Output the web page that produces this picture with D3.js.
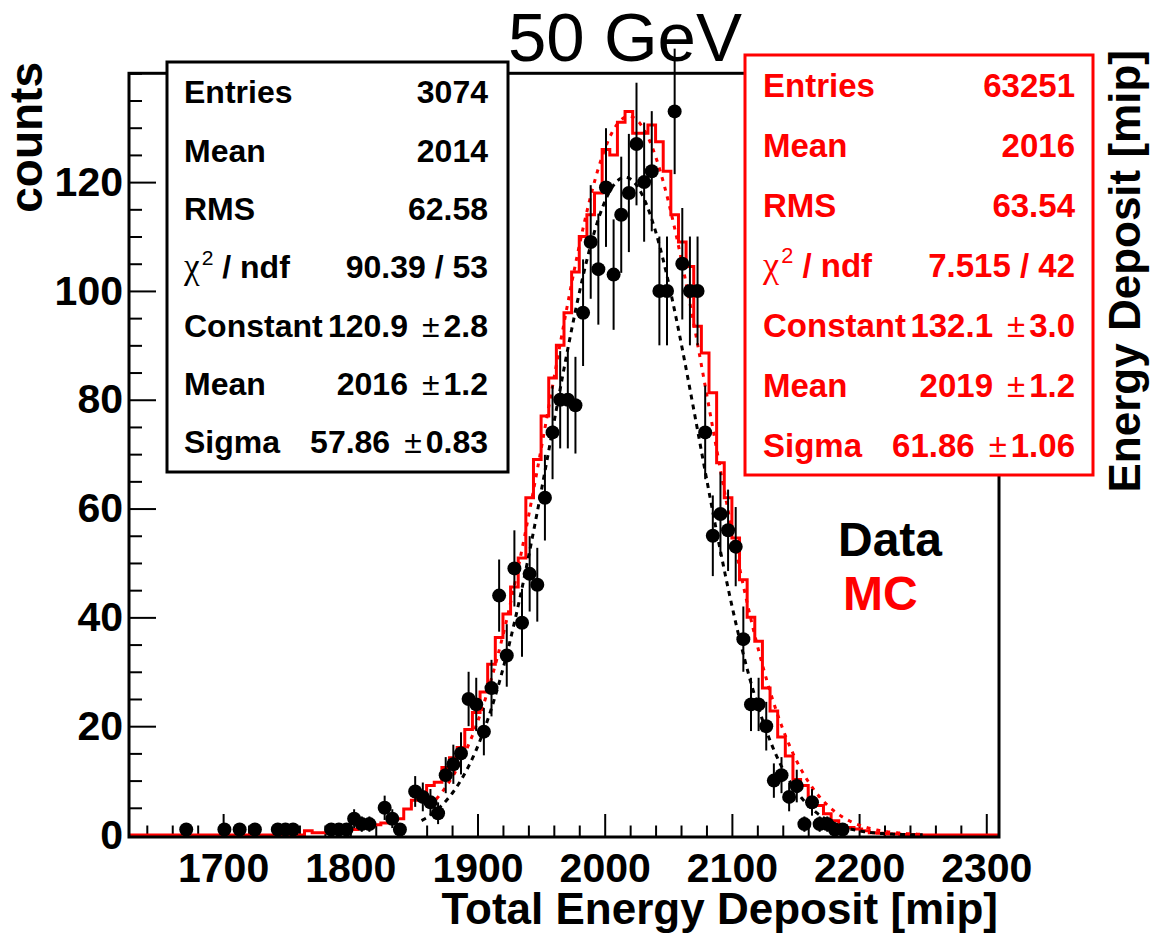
<!DOCTYPE html>
<html>
<head>
<meta charset="utf-8">
<script src="https://cdn.jsdelivr.net/npm/d3@7"></script>
<style>
  html, body { margin: 0; padding: 0; background: #fff; }
  svg { display: block; }
  text { font-family: "Liberation Sans", Arial, Helvetica, sans-serif; }
</style>
</head>
<body>
<svg id="chart" width="1150" height="935"></svg>
<script>
// Histogram binning: 114 bins of 6 mip, 1626 .. 2310 mip
const binLow = 1626;
const binWidth = 6;

// Beam-test data, counts per bin
const dataCounts = [
  0, 0, 0, 0, 0, 0, 0, 1, 0, 0,
  0, 0, 1, 0, 1, 0, 1, 0, 0, 1,
  1, 1, 0, 0, 0, 0, 1, 1, 1, 3,
  2, 2, 0, 5, 3, 1, 0, 8, 7, 6,
  4, 11, 13, 15, 25, 24, 19, 27, 44, 33,
  49, 39, 48, 46, 62, 74, 80, 80, 79, 96,
  109, 104, 119, 103, 114, 118, 127, 120, 122, 100,
  100, 133, 105, 100, 100, 74, 55, 59, 56, 53,
  36, 24, 24, 20, 10, 11, 7, 9, 2, 6,
  2, 2, 1, 1, 0, 0, 0, 0, 0, 0,
  0, 0, 0, 0, 0, 0, 0, 0, 0, 0,
  0, 0, 0, 0
];

// Simulation, normalised to the data, per bin
const mcCounts = [
  0, 0, 0, 0, 0, 0, 0, 0, 0, 0,
  0, 0, 0, 0, 0, 0, 0, 0, 0, 0,
  0, 0, 0, 0.8, 0.4, 0.4, 0.5, 0.6, 0.8, 1.0,
  1.3, 1.6, 1.9, 2.2, 2.6, 3.0, 4.8, 6.4, 7.8, 9.1,
  9.7, 12.4, 14.2, 16.1, 19.4, 22.5, 26.3, 31.4, 36.3, 40.6,
  45.6, 50.9, 62, 69, 77, 84, 90, 96, 103.5, 110,
  114, 118, 126, 125, 131, 133, 129, 129, 130.5, 127.4,
  122, 114, 109, 104.5, 93.5, 88.6, 81.3, 68.4, 62, 54.6,
  46.9, 40, 35.6, 27, 22.8, 18, 14.5, 10.2, 9.1, 6.6,
  5.4, 3.9, 2.6, 1.7, 1.4, 1.1, 0.8, 0.4, 0.3, 0.2,
  0.2, 0.1, 0.1, 0, 0, 0, 0, 0, 0, 0,
  0, 0, 0, 0
];

const xTicksMajor = [1700, 1800, 1900, 2000, 2100, 2200, 2300];
const yTicksMajor = [0, 20, 40, 60, 80, 100, 120];
const yMax = 140;

// Gaussian fits: constant, mean, sigma
const dataFit = [120.9, 2016, 57.86];
const dataFitErr = ["2.8", "1.2", "0.83"];
const dataFitRange = [1856, 2250];
const mcFit = [132.1, 2019, 61.86];
const mcFitErr = ["3.0", "1.2", "1.06"];
const mcFitRange = [1862, 2250];

const dataStats = ["3074", "2014", "62.58", "90.39 / 53"];
const mcStats = ["63251", "2016", "63.54", "7.515 / 42"];

const svg = d3.select("#chart");
const W = 1150, H = 935;
svg.append("rect").attr("width", W).attr("height", H).attr("fill", "#fff");

const frame = { left: 129, right: 999, top: 73.3, bottom: 837 };
const x = d3.scaleLinear()
  .domain([binLow, binLow + binWidth * mcCounts.length])
  .range([frame.left, frame.right]);
const y = d3.scaleLinear().domain([0, yMax]).range([835, frame.top]);

const labelSize = 41;

// ---- axes (ticks point into the frame) ----
const xMinor = d3.range(1640, 2311, 20).filter(v => !xTicksMajor.includes(v));
const yMinor = d3.range(0, yMax + 0.1, 5).filter(v => !yTicksMajor.includes(v));

const gxMinor = svg.append("g").attr("transform", `translate(0,${frame.bottom})`)
  .call(d3.axisBottom(x).tickValues(xMinor).tickSizeInner(-11.5).tickSizeOuter(0).tickFormat(""));
const gx = svg.append("g").attr("transform", `translate(0,${frame.bottom})`)
  .call(d3.axisBottom(x).tickValues(xTicksMajor).tickSizeInner(-23).tickSizeOuter(0).tickPadding(16).tickFormat(d3.format("d")));
const gyMinor = svg.append("g").attr("transform", `translate(${frame.left},0)`)
  .call(d3.axisLeft(y).tickValues(yMinor).tickSizeInner(-13).tickSizeOuter(0).tickFormat(""));
const gy = svg.append("g").attr("transform", `translate(${frame.left},0)`)
  .call(d3.axisLeft(y).tickValues(yTicksMajor).tickSizeInner(-27).tickSizeOuter(0).tickPadding(6).tickFormat(d3.format("d")));

[gxMinor, gx, gyMinor, gy].forEach(g => {
  g.select(".domain").remove();
  g.selectAll(".tick line").attr("stroke", "#000").attr("stroke-width", 2);
  g.selectAll(".tick text")
    .style("font-size", labelSize + "px").style("font-weight", "bold")
    .style("font-family", "'Liberation Sans', Arial, sans-serif")
    .attr("fill", "#000");
});

// ---- simulation histogram (step outline) ----
const edges = mcCounts.map((c, i) => [binLow + i * binWidth, c]);
edges.push([binLow + mcCounts.length * binWidth, mcCounts[mcCounts.length - 1]]);
svg.append("path")
  .attr("d", d3.line().x(d => x(d[0])).y(d => y(d[1])).curve(d3.curveStepAfter)(edges))
  .attr("fill", "none").attr("stroke", "#ff0000").attr("stroke-width", 3);

// ---- Gaussian fit curves ----
function gauss(p) { return v => p[0] * Math.exp(-0.5 * Math.pow((v - p[1]) / p[2], 2)); }
function fitPath(p, range) {
  const f = gauss(p);
  const pts = d3.range(range[0], range[1] + 0.5, 1).map(v => [v, f(v)]);
  return d3.line().x(d => x(d[0])).y(d => y(d[1]))(pts);
}
svg.append("path").attr("d", fitPath(mcFit, mcFitRange))
  .attr("fill", "none").attr("stroke", "#ff0000").attr("stroke-width", 3)
  .attr("stroke-dasharray", "4,6");
svg.append("path").attr("d", fitPath(dataFit, dataFitRange))
  .attr("fill", "none").attr("stroke", "#000").attr("stroke-width", 3)
  .attr("stroke-dasharray", "5,5");

// ---- data points with statistical error bars ----
const points = dataCounts
  .map((c, i) => ({ v: binLow + (i + 0.5) * binWidth, c }))
  .filter(d => d.c > 0);
const gp = svg.append("g");
gp.selectAll("line.err").data(points).join("line")
  .attr("class", "err")
  .attr("x1", d => x(d.v)).attr("x2", d => x(d.v))
  .attr("y1", d => y(d.c + Math.sqrt(d.c))).attr("y2", d => y(d.c - Math.sqrt(d.c)))
  .attr("stroke", "#000").attr("stroke-width", 2);
gp.selectAll("circle").data(points).join("circle")
  .attr("cx", d => x(d.v)).attr("cy", d => y(d.c)).attr("r", 7)
  .attr("fill", "#000");

// ---- frame ----
svg.append("rect")
  .attr("x", frame.left).attr("y", frame.top)
  .attr("width", frame.right - frame.left).attr("height", frame.bottom - frame.top)
  .attr("fill", "none").attr("stroke", "#000").attr("stroke-width", 3);

// ---- statistics boxes ----
function statsBox(opts) {
  const { bx, by, bw, bh, color, size, lx, rx, base0, step, stats, fit, fitErr } = opts;
  const g = svg.append("g");
  g.append("rect").attr("x", bx).attr("y", by).attr("width", bw).attr("height", bh)
    .attr("fill", "#fff").attr("stroke", color).attr("stroke-width", 3);
  const rowText = (i, xx, anchor) => g.append("text")
    .attr("x", xx).attr("y", base0 + i * step).attr("text-anchor", anchor)
    .attr("fill", color).style("font-size", size + "px").style("font-weight", "bold");
  const labels = ["Entries", "Mean", "RMS", null, "Constant", "Mean", "Sigma"];
  labels.forEach((lab, i) => {
    const t = rowText(i, lx, "start");
    if (lab) { t.text(lab); return; }
    t.append("tspan").text("\u03c7")
      .style("font-family", "'Liberation Serif', 'DejaVu Serif', serif")
      .style("font-weight", "normal").style("font-size", (size * 1.1) + "px");
    t.append("tspan").text("2").attr("dx", 2).attr("dy", -size * 0.42)
      .style("font-size", (size * 0.66) + "px").style("font-weight", "normal");
    t.append("tspan").text(" / ndf").attr("dy", size * 0.42);
  });
  stats.forEach((s, i) => rowText(i, rx, "end").text(s));
  const fitVals = [String(fit[0]), String(fit[1]), String(fit[2])];
  fitVals.forEach((s, j) => {
    const t = rowText(4 + j, rx, "end");
    t.append("tspan").text(s);
    t.append("tspan").text("\u00b1").attr("dx", 14).style("font-weight", "normal");
    t.append("tspan").text(fitErr[j]).attr("dx", 4);
  });
}

statsBox({ bx: 167, by: 62, bw: 341, bh: 410, color: "#000", size: 32,
  lx: 184, rx: 488, base0: 103.3, step: 58.3,
  stats: dataStats, fit: dataFit, fitErr: dataFitErr });
statsBox({ bx: 745, by: 55, bw: 348, bh: 420, color: "#ff0000", size: 33,
  lx: 763, rx: 1075, base0: 96.7, step: 60,
  stats: mcStats, fit: mcFit, fitErr: mcFitErr });

// ---- titles ----
svg.append("text").attr("x", 625).attr("y", 61).attr("text-anchor", "middle")
  .style("font-size", "69px").attr("fill", "#000").text("50 GeV");

svg.append("text").attr("x", 998).attr("y", 924).attr("text-anchor", "end")
  .style("font-size", "44px").style("font-weight", "bold").text("Total Energy Deposit [mip]");

svg.append("text").attr("transform", "translate(42,62) rotate(-90)").attr("text-anchor", "end")
  .style("font-size", "46px").style("font-weight", "bold").text("counts");

svg.append("text").attr("transform", "translate(1140,50) rotate(-90)").attr("text-anchor", "end")
  .style("font-size", "44px").style("font-weight", "bold").text("Energy Deposit [mip]");

// ---- legend text ----
svg.append("text").attr("x", 838).attr("y", 556)
  .style("font-size", "48px").style("font-weight", "bold").attr("fill", "#000").text("Data");
svg.append("text").attr("x", 843).attr("y", 610)
  .style("font-size", "48px").style("font-weight", "bold").attr("fill", "#ff0000").text("MC");
</script>
</body>
</html>
